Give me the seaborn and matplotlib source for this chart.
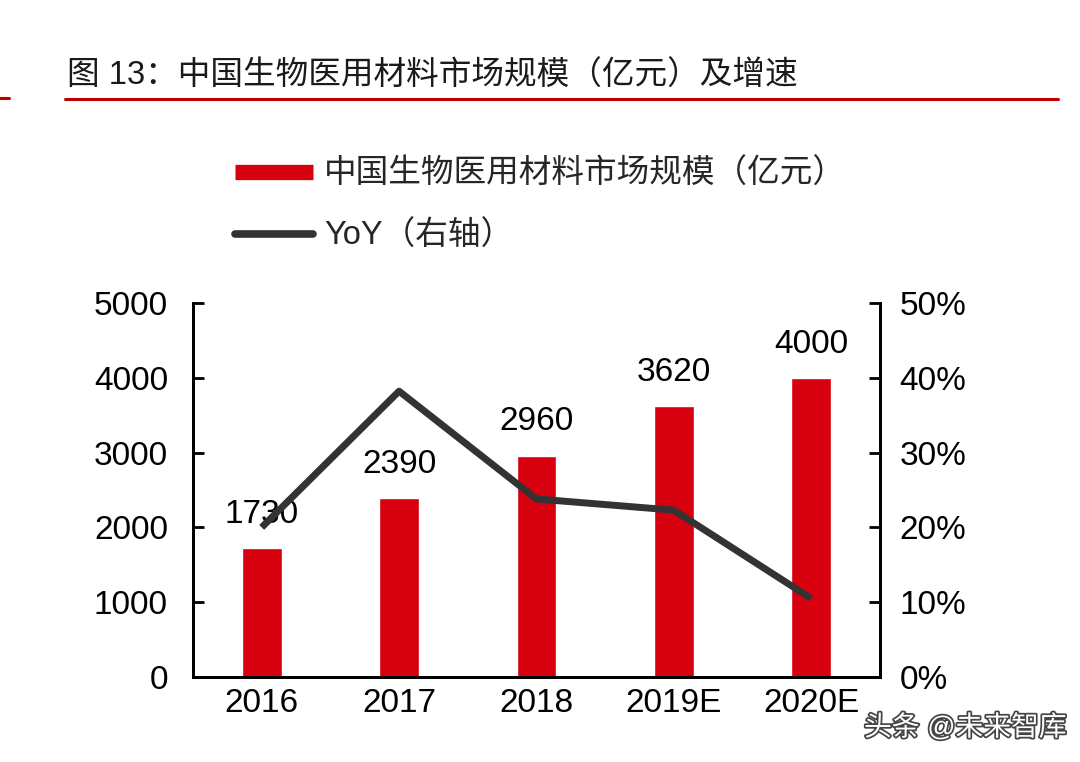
import matplotlib
matplotlib.use("Agg")
import matplotlib.pyplot as plt
import matplotlib.patheffects as pe
from matplotlib.lines import Line2D
import numpy as np
import pandas as pd
import seaborn as sns

# data
years = ["2016", "2017", "2018", "2019E", "2020E"]
market_size = [1730, 2390, 2960, 3620, 4000]
yoy_pct = [20.0, 38.2, 23.8, 22.3, 10.5]

title_text = "图 13：中国生物医用材料市场规模（亿元）及增速"
bar_label = "中国生物医用材料市场规模（亿元）"
line_label = "YoY（右轴）"

RED = "#d7000f"
DARK = "#333333"

sns.set_theme(style="white")
plt.rcParams["font.family"] = ["Liberation Sans", "Noto Sans CJK SC", "DejaVu Sans"]

df = pd.DataFrame({"year": years, "size": market_size, "yoy": yoy_pct})
df["pos"] = np.arange(len(df))

fig = plt.figure(figsize=(10.8, 7.62), dpi=100)
fig.patch.set_facecolor("white")
ax = fig.add_axes([0.1787, 0.1115, 0.636, 0.491])

sns.barplot(data=df, x="year", y="size", color=RED, width=0.29,
            saturation=1, ax=ax)
ax.set_xlim(-0.5, len(years) - 0.5)
ax.set_ylim(0, 5000)
ax.set_yticks(range(0, 5001, 1000))
ax.set_xlabel("")
ax.set_ylabel("")

for i, v in enumerate(market_size):
    ax.annotate(f"{v}", (i, v), xytext=(0, 13), textcoords="offset points",
                ha="center", va="bottom", fontsize=24, color="black")

ax2 = ax.twinx()
sns.lineplot(data=df, x="pos", y="yoy", color=DARK, linewidth=5,
             ax=ax2, solid_capstyle="butt")
ax2.set_ylim(0, 50)
ax2.set_yticks(range(0, 51, 10))
ax2.set_yticklabels([f"{t}%" for t in range(0, 51, 10)])
ax2.set_xlim(-0.5, len(years) - 0.5)
ax2.set_xlabel("")
ax2.set_ylabel("")

for a in (ax, ax2):
    for side in ("left", "right", "bottom"):
        a.spines[side].set_visible(True)
        a.spines[side].set_color("black")
        a.spines[side].set_linewidth(2)
    a.spines["top"].set_visible(False)
    a.tick_params(axis="y", direction="in", length=8, width=2, labelsize=24,
                  colors="black", pad=18)
    a.tick_params(axis="x", length=0, labelsize=24, colors="black", pad=8)
    a.grid(False)
ax2.tick_params(axis="y", pad=14)

# title and rule
fig.text(0.062, 0.900, title_text, fontsize=23.5, color="#1a1a1a",
         ha="left", va="center", fontweight="medium")
fig.add_artist(Line2D([0.06, 0.98], [0.87, 0.87], color="#c00000", lw=2.2))
fig.add_artist(Line2D([0.0, 0.008], [0.871, 0.871], color="#c00000", lw=2.2))

# legend
handles = [
    Line2D([], [], color=RED, lw=11, solid_capstyle="butt"),
    Line2D([], [], color=DARK, lw=5.5, solid_capstyle="round"),
]
fig.legend(handles, [bar_label, line_label], loc="upper left",
           bbox_to_anchor=(0.19, 0.83), frameon=False, fontsize=23.5,
           handlelength=2.4, handletextpad=0.35, labelspacing=0.95)

# watermark
fig.text(0.80, 0.045, "头条 @未来智库", fontsize=20, color="white",
         ha="left", va="center",
         path_effects=[pe.withStroke(linewidth=2.5, foreground="#444444")])

fig.savefig("out.png", dpi=100, facecolor="white")
